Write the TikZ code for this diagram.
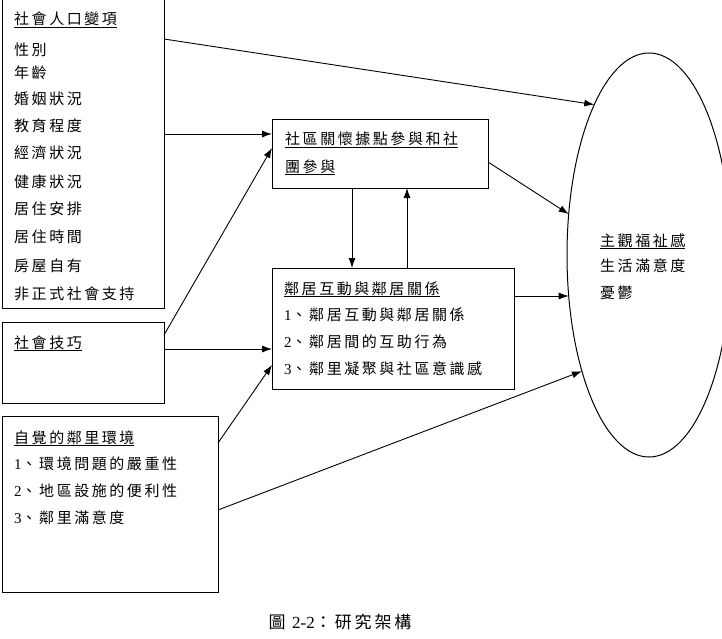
\documentclass[tikz,border=0pt]{standalone}
\usepackage{fontspec}
\setmainfont{Noto Sans CJK TC}[LetterSpace=17]
\newfontfamily\latn{Liberation Serif}
\usetikzlibrary{calc,shapes.geometric,arrows.meta}
\begin{document}
\begin{tikzpicture}[x=1pt,y=-1pt,
  box/.style={draw,line width=1pt,anchor=north west,inner sep=0pt,outer sep=0pt},
  oval/.style={draw,line width=1pt,ellipse,inner sep=0pt,outer sep=0pt},
  txt/.style={anchor=base west,inner sep=0pt,font=\fontsize{15}{15}\selectfont},
  arr/.style={-{Latex[length=10pt,width=7pt]},line width=0.9pt}]
\useasboundingbox (0,0) rectangle (722,639);
% boxes
\node[box,minimum width=162,minimum height=311] (b1) at (2,-3) {};
\node[box,minimum width=162,minimum height=81] (b2) at (2,322) {};
\node[box,minimum width=216,minimum height=176] (b3) at (2,416) {};
\node[box,minimum width=216,minimum height=68] (b4) at (272,120) {};
\node[box,minimum width=242,minimum height=121] (b5) at (272,268) {};
\node[oval,minimum width=164,minimum height=404] (el) at (649,255) {};
% texts box 1
\node[txt] (t1a) at (14,25) {\underline{社會人口變項}};
\node[txt] (t1b) at (14,56) {性別};
\node[txt] (t1c) at (14,79) {年齡};
\node[txt] (t1d) at (14,105) {婚姻狀況};
\node[txt] (t1e) at (14,132) {教育程度};
\node[txt] (t1f) at (14,159) {經濟狀況};
\node[txt] (t1g) at (14,187) {健康狀況};
\node[txt] (t1h) at (14,214) {居住安排};
\node[txt] (t1i) at (14,242) {居住時間};
\node[txt] (t1j) at (14,271) {房屋自有};
\node[txt] (t1k) at (14,299) {非正式社會支持};
% box 2
\node[txt] (t2a) at (14,348) {\underline{社會技巧}};
% box 3
\node[txt] (t3a) at (14,443) {\underline{自覺的鄰里環境}};
\node[txt] (t3b) at (14,469) {{\latn 1}、環境問題的嚴重性};
\node[txt] (t3c) at (14,496) {{\latn 2}、地區設施的便利性};
\node[txt] (t3d) at (14,523) {{\latn 3}、鄰里滿意度};
% box 4
\node[txt] (t4a) at (285,145) {\underline{社區關懷據點參與和社}};
\node[txt] (t4b) at (285,172) {\underline{團參與}};
% box 5
\node[txt] (t5a) at (284,294) {\underline{鄰居互動與鄰居關係}};
\node[txt] (t5b) at (284,320) {{\latn 1}、鄰居互動與鄰居關係};
\node[txt] (t5c) at (284,347) {{\latn 2}、鄰居間的互助行為};
\node[txt] (t5d) at (284,374) {{\latn 3}、鄰里凝聚與社區意識感};
% ellipse
\node[txt] (t6a) at (600,246) {\underline{主觀福祉感}};
\node[txt] (t6b) at (600,271) {生活滿意度};
\node[txt] (t6c) at (600,298) {憂鬱};
% caption
\node[anchor=base,inner sep=0pt,font=\fontsize{17}{17}\selectfont] (cap) at (340,628) {圖 {\latn 2-2}：研究架構};
% arrows
\draw[arr] ($(b1.north east)+(0,42)$) -- (el.110.6);
\draw[arr] ($(b1.north east)+(0,137)$) -- ($(b4.north west)+(0,14)$);
\draw[arr] ($(b2.north east)+(0,13)$) -- ($(b4.north west)+(0,28)$);
\draw[arr] ($(b2.north east)+(0,27)$) -- ($(b5.north west)+(0,81)$);
\draw[arr] ($(b3.north east)+(0,27)$) -- ($(b5.north west)+(0,97)$);
\draw[arr] ($(b3.north east)+(0,94)$) -- (el.240.5);
\draw[arr] ($(b4.north east)+(0,42)$) -- (el.153.5);
\draw[arr] ($(b5.north east)+(0,28)$) -- ($(el.west)+(1.7,41)$);
\draw[arr] ($(b4.south west)+(80,0)$) -- ($(b5.north west)+(80,0)$);
\draw[arr] ($(b5.north west)+(135,0)$) -- ($(b4.south west)+(135,0)$);
\end{tikzpicture}
\end{document}
